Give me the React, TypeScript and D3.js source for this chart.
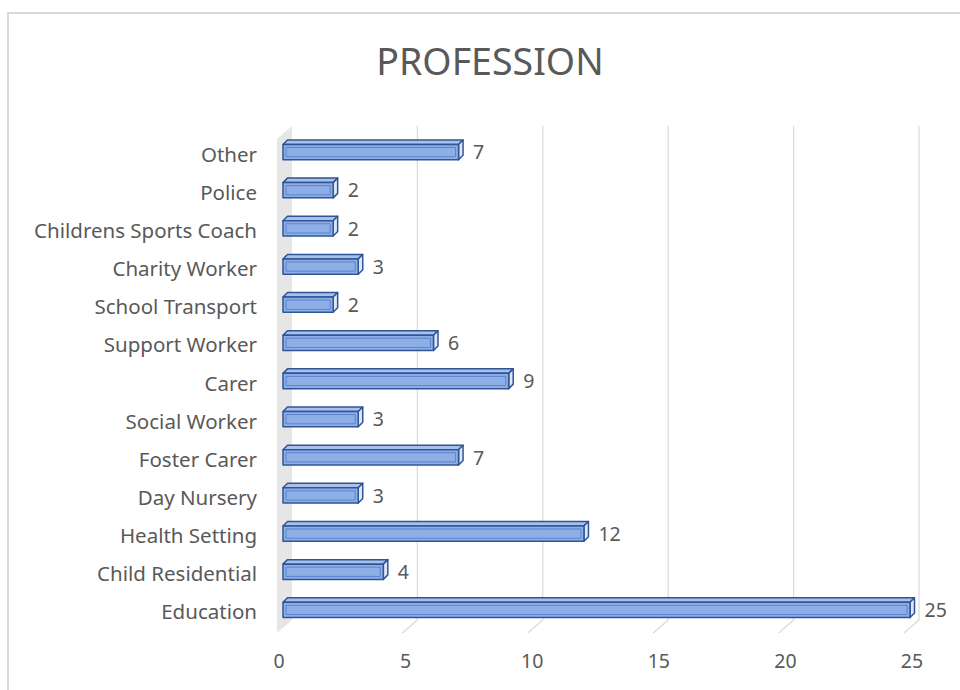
import React from "react";
import { scaleLinear, scaleBand } from "d3";

// categories from top to bottom
const categories = [
  "Other",
  "Police",
  "Childrens Sports Coach",
  "Charity Worker",
  "School Transport",
  "Support Worker",
  "Carer",
  "Social Worker",
  "Foster Carer",
  "Day Nursery",
  "Health Setting",
  "Child Residential",
  "Education",
];
const counts = [7, 2, 2, 3, 2, 6, 9, 3, 7, 3, 12, 4, 25];
const tickValues = [0, 5, 10, 15, 20, 25];

const W = 960;
const H = 690;
const FONT = "'Noto Sans', 'Open Sans', sans-serif";
const GREY = "#595959";

// 3D depth of the floor / wall
const DX = 15;
const DY = -13;
const floorY = 633;
const wallTop = 139;

function App() {
  // front plane of the floor and the back wall
  const xFront = scaleLinear().domain([0, 25]).range([277, 904]);
  const xBack = (v: number) => xFront(v) + DX;
  // bars sit in the middle of the depth
  const xBar = scaleLinear().domain([0, 25]).range([283, 910]);
  const y = scaleBand().domain(categories).range([133, 629]).paddingInner(0.6).paddingOuter(0.3);
  const bw = y.bandwidth();
  const bdx = 4.5;
  const bdy = -4.5;

  return (
    <div style={{ position: "absolute", left: 0, top: 0 }}>
      <svg width={W} height={H} style={{ display: "block", background: "#fff" }}>
        <rect x={8} y={13} width={W + 20} height={H + 20} fill="#fff" stroke="#d9d9d9" strokeWidth={2} />

        <text x={490} y={75} textAnchor="middle" fontFamily={FONT} fontSize={37.5} fill={GREY}>
          PROFESSION
        </text>

        {/* left wall */}
        <polygon
          points={`${xFront(0)},${wallTop} ${xBack(0)},${wallTop + DY} ${xBack(0)},${floorY + DY} ${xFront(0)},${floorY}`}
          fill="#e6e6e6"
        />

        {/* gridlines on the back wall and floor */}
        {tickValues.slice(1).map((t) => (
          <g key={t} stroke="#d9d9d9" strokeWidth={1.2} fill="none">
            <line x1={xBack(t)} x2={xBack(t)} y1={wallTop + DY} y2={floorY + DY} />
            <line x1={xBack(t)} x2={xFront(t)} y1={floorY + DY} y2={floorY} />
          </g>
        ))}

        {/* bars */}
        {categories.map((c, i) => {
          const y0 = y(c)!;
          const x0 = xBar(0);
          const x1 = xBar(counts[i]);
          return (
            <g key={c} stroke="#2f5597" strokeWidth={1.5} strokeLinejoin="round">
              <polygon
                points={`${x0},${y0} ${x0 + bdx},${y0 + bdy} ${x1 + bdx},${y0 + bdy} ${x1},${y0}`}
                fill="#a9c1ea"
              />
              <polygon
                points={`${x1},${y0} ${x1 + bdx},${y0 + bdy} ${x1 + bdx},${y0 + bw + bdy} ${x1},${y0 + bw}`}
                fill="#dde7f7"
              />
              <rect x={x0} y={y0} width={x1 - x0} height={bw} fill="#8eaee6" />
              <rect
                x={x0 + 3}
                y={y0 + 3}
                width={Math.max(0, x1 - x0 - 6)}
                height={bw - 6}
                fill="none"
                stroke="#5b83cf"
                strokeWidth={1}
              />
            </g>
          );
        })}

        {/* category labels */}
        {categories.map((c) => (
          <text
            key={c}
            x={257}
            y={y(c)! + bw / 2 + 4}
            textAnchor="end"
            dominantBaseline="middle"
            fontFamily={FONT}
            fontSize={20.5}
            fill={GREY}
          >
            {c}
          </text>
        ))}

        {/* value labels */}
        {categories.map((c, i) => (
          <text
            key={c}
            x={xBar(counts[i]) + bdx + 10}
            y={y(c)! + bw / 2 + 2}
            dominantBaseline="middle"
            fontFamily={FONT}
            fontSize={19.5}
            fill={GREY}
          >
            {counts[i]}
          </text>
        ))}

        {/* x axis labels */}
        {tickValues.map((t) => (
          <text
            key={t}
            x={xFront(t) + 2 + (t / 25) * 6}
            y={663}
            textAnchor="middle"
            dominantBaseline="middle"
            fontFamily={FONT}
            fontSize={19.5}
            fill={GREY}
          >
            {t}
          </text>
        ))}
      </svg>
    </div>
  );
}

export default App;
